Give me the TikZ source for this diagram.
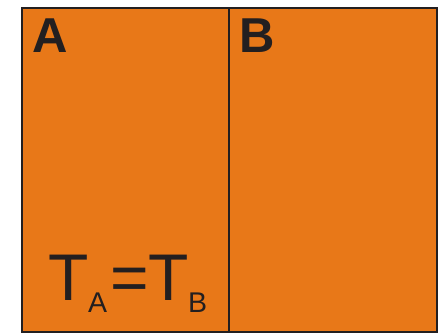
\documentclass[tikz,border=0pt]{standalone}
\usepackage{fontspec}
\setmainfont{Liberation Sans}
\definecolor{boxorange}{RGB}{232,120,24}
\definecolor{boxline}{RGB}{35,31,32}
\begin{document}
\begin{tikzpicture}[x=1pt,y=-1pt,
  lab/.style={inner sep=0pt,anchor=base west,text=boxline},
  big/.style={lab,font=\fontsize{49}{49}\selectfont\bfseries},
  tmain/.style={lab,font=\fontsize{66}{66}\selectfont},
  tsub/.style={lab,font=\fontsize{28.5}{28.5}\selectfont}]
\useasboundingbox (0,0) rectangle (442,336);
\coordinate (tl) at (22,8);
\coordinate (br) at (437,332);
\coordinate (dtop) at (229,8);
\coordinate (dbot) at (229,332);
\fill[boxorange] (tl) rectangle (br);
\draw[boxline,line width=2.6pt] (tl) rectangle (br);
\draw[boxline,line width=2.6pt] (dtop) -- (dbot);
\node[big] (A) at (32.5,53) {A};
\node[big] (B) at (239.5,53) {B};
\node[tmain] (T1) at (48.5,301) {T};
\node[tsub] (sA) at (88,313) {A};
\node[tmain] (eq) at (110,301) {=};
\node[tmain] (T2) at (148.5,301) {T};
\node[tsub] (sB) at (188,313) {B};
\end{tikzpicture}
\end{document}
